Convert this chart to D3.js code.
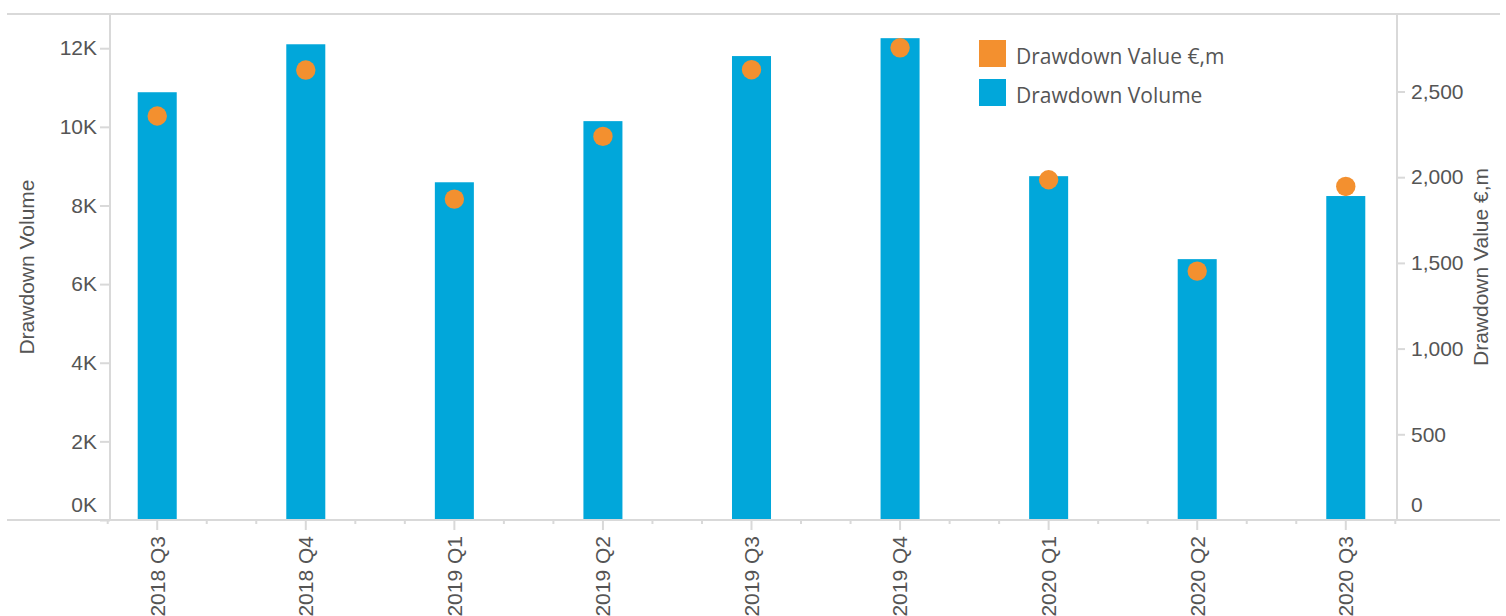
<!DOCTYPE html>
<html>
<head>
<meta charset="utf-8">
<script src="https://cdn.jsdelivr.net/npm/d3@7"></script>
<style>
  body { margin: 0; background: #fff; }
  .tick text { font-family: "Liberation Sans", Arial, sans-serif; font-size: 21px; fill: #555; }
  .axisText { font-family: "Liberation Sans", Arial, sans-serif; font-size: 21px; fill: #555; }
  .legendText { font-family: "Open Sans", sans-serif; font-size: 21px; fill: #555; }
</style>
</head>
<body>
<div id="chart"></div>
<script>
// Data
var quarters = ["2018 Q3", "2018 Q4", "2019 Q1", "2019 Q2", "2019 Q3", "2019 Q4", "2020 Q1", "2020 Q2", "2020 Q3"];
var drawdownVolume = [10880, 12100, 8590, 10145, 11800, 12255, 8745, 6635, 8240];
var drawdownValue = [2357, 2625, 1872, 2238, 2627, 2755, 1985, 1452, 1946];
var volumeTicks = [0, 2000, 4000, 6000, 8000, 10000, 12000];
var valueTicks = [0, 500, 1000, 1500, 2000, 2500];

var svgWidth = 1506;
var svgHeight = 616;

var margin = {
  top: 14,
  bottom: 96,
  left: 110,
  right: 109
};

var width = svgWidth - margin.left - margin.right;
var height = svgHeight - margin.top - margin.bottom;

var blue = "#01a7da";
var orange = "#f3902f";
var lineColor = "#d9d9d9";

var svg = d3.select("#chart")
  .append("svg")
  .attr("width", svgWidth)
  .attr("height", svgHeight);

var chartGroup = svg.append("g")
  .attr("transform", `translate(${margin.left}, ${margin.top})`);

// Scales
var xBandScale = d3.scaleBand()
  .domain(quarters)
  .range([-2, width - 2])
  .paddingInner(0.7374)
  .paddingOuter(0.2);

var yVolumeScale = d3.scaleLinear()
  .domain([0, 12870])
  .range([height, 0]);

var yValueScale = d3.scaleLinear()
  .domain([0, 2952])
  .range([height, 0]);

var centerX = d => xBandScale(d) + xBandScale.bandwidth() / 2;

// Top frame line (runs past the plot)
svg.append("line")
  .attr("x1", 7).attr("x2", 1500)
  .attr("y1", margin.top).attr("y2", margin.top)
  .attr("stroke", lineColor).attr("stroke-width", 2);

// Bars
chartGroup.selectAll("rect.bar")
  .data(quarters)
  .enter()
  .append("rect")
  .attr("class", "bar")
  .attr("x", d => xBandScale(d))
  .attr("y", (d, i) => yVolumeScale(drawdownVolume[i]))
  .attr("width", xBandScale.bandwidth())
  .attr("height", (d, i) => height - yVolumeScale(drawdownVolume[i]))
  .attr("fill", blue);

// Dots
chartGroup.selectAll("circle")
  .data(quarters)
  .enter()
  .append("circle")
  .attr("cx", d => centerX(d))
  .attr("cy", (d, i) => yValueScale(drawdownValue[i]))
  .attr("r", 9.7)
  .attr("fill", orange);

// Left axis
var leftAxis = d3.axisLeft(yVolumeScale)
  .tickValues(volumeTicks)
  .tickSize(10)
  .tickPadding(3)
  .tickFormat(d => (d / 1000) + "K");

var leftG = chartGroup.append("g").call(leftAxis);
leftG.select(".domain").remove();
leftG.selectAll(".tick line").attr("stroke", lineColor).attr("stroke-width", 2);
leftG.selectAll(".tick text").filter(d => d === 0).attr("dy", "-0.4em");

// Right axis
var rightAxis = d3.axisRight(yValueScale)
  .tickValues(valueTicks)
  .tickSize(8)
  .tickPadding(6)
  .tickFormat(d3.format(","));

var rightG = chartGroup.append("g")
  .attr("transform", `translate(${width}, 0)`)
  .call(rightAxis);
rightG.select(".domain").remove();
rightG.selectAll(".tick line").attr("stroke", lineColor).attr("stroke-width", 2)
  .filter(d => d === 0).remove();
rightG.selectAll(".tick text").filter(d => d === 0).attr("dy", "-0.4em");

// Bottom axis with rotated labels
var bottomAxis = d3.axisBottom(xBandScale)
  .tickSize(10)
  .tickPadding(6);

var bottomG = chartGroup.append("g")
  .attr("transform", `translate(0, ${height})`)
  .call(bottomAxis);
bottomG.select(".domain").remove();
bottomG.selectAll(".tick line").attr("stroke", lineColor).attr("stroke-width", 2);
bottomG.selectAll(".tick text")
  .attr("transform", "rotate(-90)")
  .attr("x", -16)
  .attr("y", 0)
  .attr("dy", "0.35em")
  .style("text-anchor", "end");

// Minor monthly ticks between quarters
var minorOffsets = [-1, 1];
quarters.forEach(function(q) {
  minorOffsets.forEach(function(k) {
    var mx = centerX(q) + k * xBandScale.step() / 3;
    chartGroup.append("line")
      .attr("x1", mx).attr("x2", mx)
      .attr("y1", height).attr("y2", height + 4)
      .attr("stroke", lineColor).attr("stroke-width", 2);
  });
});

// Axis lines
chartGroup.append("line")
  .attr("x1", 0).attr("x2", 0)
  .attr("y1", 0).attr("y2", height)
  .attr("stroke", lineColor).attr("stroke-width", 2);

chartGroup.append("line")
  .attr("x1", width).attr("x2", width)
  .attr("y1", 0).attr("y2", height)
  .attr("stroke", lineColor).attr("stroke-width", 2);

svg.append("line")
  .attr("x1", 7).attr("x2", 1500)
  .attr("y1", margin.top + height).attr("y2", margin.top + height)
  .attr("stroke", lineColor).attr("stroke-width", 2);

// Axis titles
svg.append("text")
  .attr("class", "axisText")
  .attr("transform", `translate(34, ${margin.top + height / 2}) rotate(-90)`)
  .style("text-anchor", "middle")
  .text("Drawdown Volume");

svg.append("text")
  .attr("class", "axisText")
  .attr("transform", `translate(1488, ${margin.top + height / 2}) rotate(-90)`)
  .style("text-anchor", "middle")
  .text("Drawdown Value €,m");

// Legend
var legendItems = ["Drawdown Value €,m", "Drawdown Volume"];
var legendColors = [orange, blue];

var legend = svg.append("g")
  .attr("transform", "translate(979, 40)");

legend.selectAll("rect")
  .data(legendItems)
  .enter()
  .append("rect")
  .attr("x", 0)
  .attr("y", (d, i) => i * 39)
  .attr("width", 27)
  .attr("height", 27)
  .attr("fill", (d, i) => legendColors[i]);

legend.selectAll("text")
  .data(legendItems)
  .enter()
  .append("text")
  .attr("class", "legendText")
  .attr("x", 37)
  .attr("y", (d, i) => 24 + i * 39)
  .text(d => d);
</script>
</body>
</html>
